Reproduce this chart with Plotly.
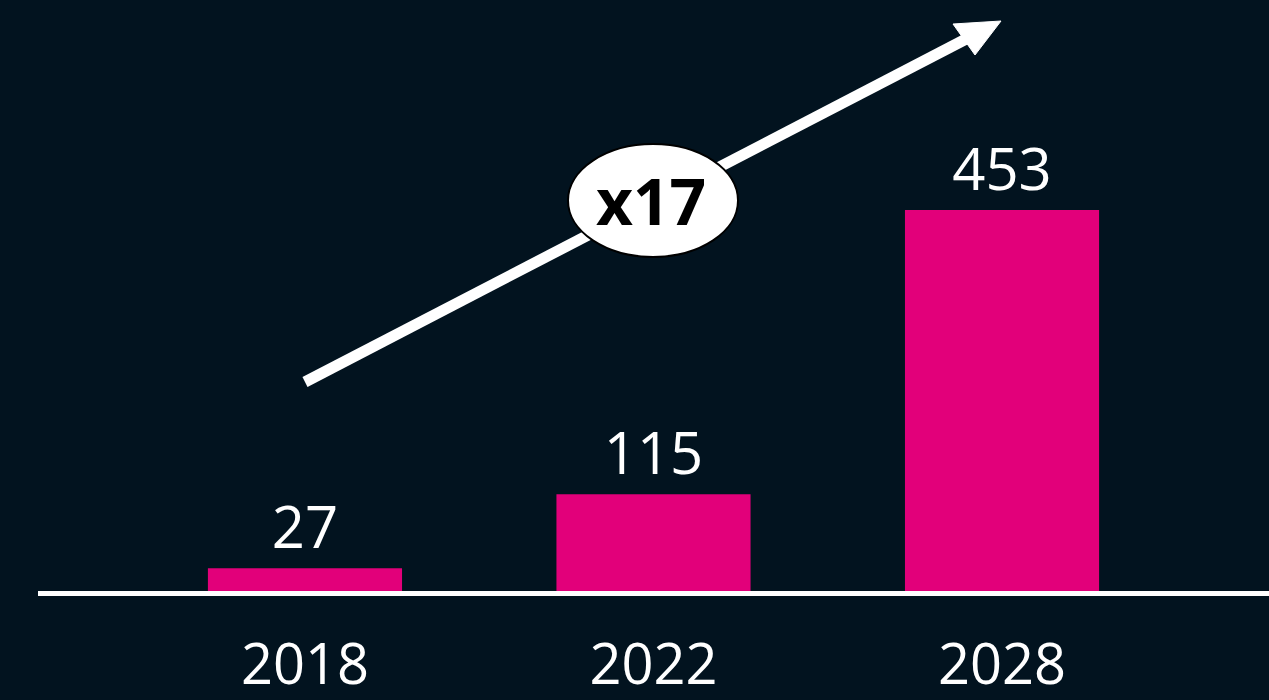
import plotly.graph_objects as go

# ---- data ----
years = ["2018", "2022", "2028"]
values = [27, 115, 453]
value_labels = ["27", "115", "453"]
growth_label = "x17"

W, H = 1269, 700
L, B = 38, 109
PW, PH = W - L, H - B

def px(x):
    return (x - L) / PW

def py(y):
    return (PH - y) / PH

BAR = "#E2007A"
BG = "#02131f"

xpos = list(range(len(years)))

fig = go.Figure()
fig.add_trace(go.Bar(
    x=xpos, y=values, width=0.557, marker=dict(color=BAR, line=dict(width=0)),
    text=value_labels, textposition="outside", cliponaxis=False,
    textfont=dict(family="Open Sans", size=58, color="white"),
    outsidetextfont=dict(family="Open Sans", size=58, color="white"),
    hovertext=years, hoverinfo="text+y", showlegend=False,
))

annotations = [dict(
    x=px(651), y=py(200), xref="paper", yref="paper", text="<b>" + growth_label + "</b>",
    showarrow=False, xanchor="center", yanchor="middle",
    font=dict(family="Open Sans", size=64, color="black"),
)]

shapes = [
    # arrow shaft
    dict(type="line", xref="paper", yref="paper",
         x0=px(305), y0=py(382), x1=px(968), y1=py(38),
         line=dict(color="white", width=11), layer="above"),
    # arrow head
    dict(type="path", xref="paper", yref="paper",
         path="M {} {} L {} {} L {} {} Z".format(px(1001), py(21), px(953), py(24), px(975), py(55)),
         fillcolor="white", line=dict(color="white", width=1), layer="above"),
    # ellipse
    dict(type="circle", xref="paper", yref="paper",
         x0=px(568), x1=px(738), y0=py(257), y1=py(144),
         fillcolor="white", line=dict(color="black", width=2), layer="above"),
]

fig.update_layout(
    width=W, height=H,
    margin=dict(l=L, r=0, t=0, b=B, autoexpand=False),
    paper_bgcolor=BG, plot_bgcolor=BG,
    showlegend=False,
    annotations=annotations,
    shapes=shapes,
    xaxis=dict(
        range=[-0.766, 2.766], showgrid=False, zeroline=False, automargin=False,
        tickmode="array", tickvals=xpos, ticktext=years,
        showline=True, linecolor="white", linewidth=5, ticks="",
        tickfont=dict(family="Open Sans", size=56, color="white"),
        ticklabelstandoff=21,
    ),
    yaxis=dict(range=[0, PH / ((PH - 210) / 453)], visible=False, automargin=False,
               showgrid=False, zeroline=False),
)

fig.write_html(
    "out.html",
    config={"displayModeBar": False},
    post_script="document.body.style.margin='0';document.body.style.overflow='hidden';",
)
